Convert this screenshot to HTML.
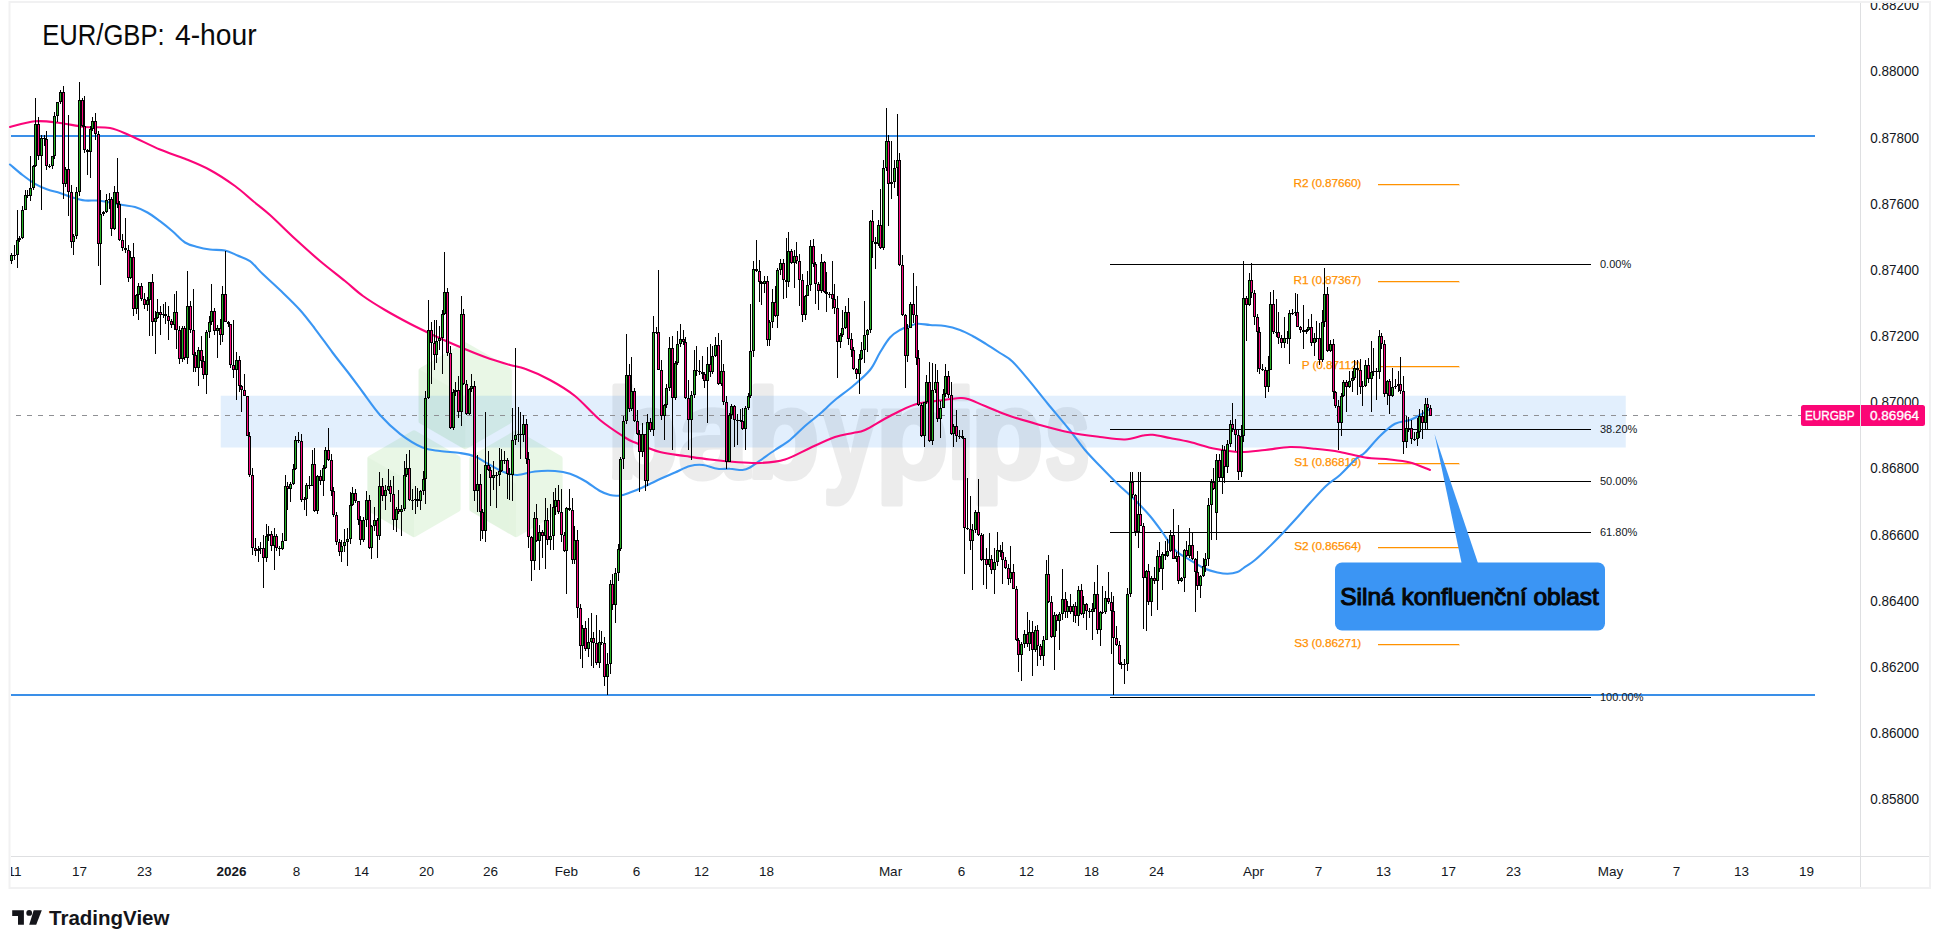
<!DOCTYPE html>
<html><head><meta charset="utf-8"><title>EUR/GBP: 4-hour</title>
<style>
html,body{margin:0;padding:0;background:#fff;}
body{width:1940px;height:948px;overflow:hidden;font-family:"Liberation Sans",sans-serif;}
svg{display:block;position:absolute;left:0;top:0;}
text{font-family:"Liberation Sans",sans-serif;}
</style></head><body>
<svg width="1940" height="948" viewBox="0 0 1940 948">
<defs><clipPath id="cf"><rect x="11" y="3" width="1918" height="884"/></clipPath></defs>
<rect width="1940" height="948" fill="#fff"/>
<!-- frame -->
<rect x="9.5" y="2" width="1920.5" height="886" fill="none" stroke="#f1f1f2" stroke-width="2"/>
<g shape-rendering="crispEdges" fill="#dedfe1">
<rect x="1860" y="3" width="1" height="884"/>
<rect x="11" y="856" width="1918" height="1"/>
</g>
<!-- watermark -->
<g>
<g fill="#86d476" stroke="#86d476" stroke-linejoin="round" stroke-width="6" opacity="0.175"><polygon points="465.2,345.4 508.8,370.6 508.8,421.0 465.2,446.2 421.6,421.0 421.6,370.6"/><polygon points="414.0,433.4 457.6,458.6 457.6,509.0 414.0,534.2 370.4,509.0 370.4,458.6"/><polygon points="516.0,433.4 559.6,458.6 559.6,509.0 516.0,534.2 472.4,509.0 472.4,458.6"/></g><g fill="#5aa84a" opacity="0.03"><polygon points="418.6,368.9 465.2,395.8 465.2,449.6 418.6,422.7"/><polygon points="367.4,456.9 414,483.8 414.0,537.6 367.4,510.7"/><polygon points="469.4,456.9 516,483.8 516.0,537.6 469.4,510.7"/></g>
<g opacity="0.07" font-size="127" font-weight="bold" fill="#000" stroke="#000" stroke-width="5" stroke-linejoin="round"><text x="606.5" y="477.5" textLength="72.1" lengthAdjust="spacingAndGlyphs">b</text><text x="678.3" y="477.5" textLength="70.5" lengthAdjust="spacingAndGlyphs">a</text><text x="746.5" y="477.5" textLength="73.2" lengthAdjust="spacingAndGlyphs">b</text><text x="822.9" y="477.5" textLength="53.6" lengthAdjust="spacingAndGlyphs">y</text><text x="875.5" y="477.5" textLength="73.2" lengthAdjust="spacingAndGlyphs">p</text><text x="947.1" y="477.5" textLength="27.8" lengthAdjust="spacingAndGlyphs">i</text><text x="970.5" y="477.5" textLength="73.2" lengthAdjust="spacingAndGlyphs">p</text><text x="1044.8" y="477.5" textLength="45.1" lengthAdjust="spacingAndGlyphs">s</text></g>
</g>
<!-- zone -->
<rect x="220.75" y="395.75" width="1405" height="51.75" fill="#2f8cf0" fill-opacity="0.14"/>
<!-- horizontal levels -->
<g shape-rendering="crispEdges">
<rect x="11" y="135" width="1804" height="2" fill="#3a8fe8"/>
<rect x="11" y="694" width="1804" height="2" fill="#3a8fe8"/>
<g fill="#000">
<rect x="1110" y="264" width="481" height="1"/>
<rect x="1110" y="429" width="481" height="1"/>
<rect x="1110" y="481" width="481" height="1"/>
<rect x="1110" y="532" width="481" height="1"/>
<rect x="1110" y="697" width="481" height="1"/>
</g>
</g>
<g font-size="11" fill="#131722">
<text x="1600" y="267.9">0.00%</text>
<text x="1600" y="432.9">38.20%</text>
<text x="1600" y="484.9">50.00%</text>
<text x="1600" y="535.9">61.80%</text>
<text x="1600" y="700.9">100.00%</text>
</g>
<g font-size="11.8" fill="#ff9100" stroke="#ff9100" stroke-width="0.25" letter-spacing="-0.1"><text x="1361.2" y="187.3" text-anchor="end">R2 (0.87660)</text><rect x="1378" y="184" width="81" height="1" fill="#ff9300" shape-rendering="crispEdges"/><text x="1361.2" y="284.3" text-anchor="end">R1 (0.87367)</text><rect x="1378" y="281" width="81" height="1" fill="#ff9300" shape-rendering="crispEdges"/><text x="1361.2" y="369.3" text-anchor="end">P (0.87112)</text><rect x="1378" y="366" width="81" height="1" fill="#ff9300" shape-rendering="crispEdges"/><text x="1361.2" y="466.3" text-anchor="end">S1 (0.86819)</text><rect x="1378" y="463" width="81" height="1" fill="#ff9300" shape-rendering="crispEdges"/><text x="1361.2" y="550.3" text-anchor="end">S2 (0.86564)</text><rect x="1378" y="547" width="81" height="1" fill="#ff9300" shape-rendering="crispEdges"/><text x="1361.2" y="647.3" text-anchor="end">S3 (0.86271)</text><rect x="1378" y="644" width="81" height="1" fill="#ff9300" shape-rendering="crispEdges"/></g>
<!-- last price dashed -->
<line x1="11" y1="415.5" x2="1801" y2="415.5" stroke="#8f9094" stroke-width="1" stroke-dasharray="5 6" stroke-dashoffset="5.8" shape-rendering="crispEdges"/>
<path d="M10.0 164.5C12.1 166.2 18.3 171.8 22.5 175.0C26.7 178.2 30.8 181.3 35.0 183.8C39.2 186.2 43.3 188.0 47.5 189.5C51.7 191.0 55.8 191.7 60.0 193.0C64.2 194.3 68.3 196.2 72.5 197.5C76.7 198.8 80.8 200.0 85.0 200.5C89.2 201.0 93.3 200.2 97.5 200.5C101.7 200.8 105.8 201.8 110.0 202.5C114.2 203.2 118.3 204.2 122.5 205.0C126.7 205.8 130.8 205.8 135.0 207.0C139.2 208.2 143.3 210.1 147.5 212.5C151.7 214.9 155.8 218.1 160.0 221.2C164.2 224.4 168.3 227.7 172.5 231.2C176.7 234.8 180.8 239.9 185.0 242.5C189.2 245.1 193.3 245.8 197.5 247.0C201.7 248.2 205.4 248.9 210.0 249.5C214.6 250.1 220.4 249.5 225.0 250.5C229.6 251.5 233.3 253.7 237.5 255.5C241.7 257.3 245.8 258.2 250.0 261.2C254.2 264.3 257.5 269.0 262.5 273.8C267.5 278.5 273.8 284.0 280.0 290.0C286.2 296.0 294.2 303.5 300.0 310.0C305.8 316.5 309.6 321.7 315.0 328.8C320.4 335.8 326.7 344.8 332.5 352.5C338.3 360.2 344.9 368.3 350.0 375.0C355.1 381.7 358.0 385.8 363.0 392.5C368.0 399.2 373.8 408.1 380.0 415.0C386.2 421.9 392.9 428.3 400.0 433.8C407.1 439.2 415.8 444.6 422.5 447.5C429.2 450.4 433.8 450.1 440.0 451.0C446.2 451.9 454.2 452.1 460.0 453.0C465.8 453.9 470.0 454.5 475.0 456.5C480.0 458.5 485.0 462.3 490.0 465.0C495.0 467.7 500.4 470.8 505.0 472.5C509.6 474.2 512.5 475.2 517.5 475.0C522.5 474.8 528.8 472.2 535.0 471.5C541.2 470.8 549.2 470.6 555.0 471.0C560.8 471.4 565.0 472.1 570.0 473.8C575.0 475.4 580.0 478.1 585.0 481.0C590.0 483.9 595.8 488.7 600.0 491.0C604.2 493.3 606.7 494.2 610.0 495.0C613.3 495.8 616.7 495.9 620.0 495.5C623.3 495.1 626.2 493.8 630.0 492.5C633.8 491.2 637.5 489.8 642.5 487.5C647.5 485.2 654.6 481.5 660.0 479.0C665.4 476.5 670.0 474.7 675.0 472.5C680.0 470.3 685.3 467.2 690.0 466.0C694.7 464.8 698.4 464.5 703.0 465.0C707.6 465.5 713.0 468.1 717.5 468.8C722.0 469.4 725.8 468.5 730.0 468.8C734.2 469.0 739.2 470.2 742.5 470.0C745.8 469.8 747.1 469.1 750.0 467.5C752.9 465.9 755.8 463.4 760.0 460.5C764.2 457.6 770.0 453.4 775.0 450.0C780.0 446.6 785.0 444.0 790.0 440.0C795.0 436.0 800.0 430.4 805.0 426.0C810.0 421.6 815.0 418.1 820.0 413.8C825.0 409.4 829.5 404.6 835.0 400.0C840.5 395.4 847.2 391.0 853.0 386.0C858.8 381.0 865.5 375.6 870.0 370.0C874.5 364.4 876.7 357.9 880.0 352.5C883.3 347.1 886.7 341.2 890.0 337.5C893.3 333.8 896.7 331.9 900.0 330.0C903.3 328.1 907.1 327.0 910.0 326.0C912.9 325.0 914.2 323.9 917.5 323.8C920.8 323.6 925.4 324.6 930.0 325.0C934.6 325.4 940.0 325.2 945.0 326.0C950.0 326.8 955.4 328.3 960.0 330.0C964.6 331.7 968.2 333.7 972.5 336.0C976.8 338.3 980.9 340.8 985.5 343.6C990.1 346.4 995.5 350.0 1000.0 353.0C1004.5 356.0 1007.4 356.7 1012.4 361.5C1017.4 366.3 1024.1 374.6 1030.0 381.7C1035.9 388.8 1041.3 395.9 1048.0 404.0C1054.7 412.1 1063.8 422.8 1070.0 430.5C1076.2 438.2 1080.0 444.1 1085.0 450.0C1090.0 455.9 1094.6 460.4 1100.0 466.0C1105.4 471.6 1111.7 478.1 1117.5 483.8C1123.3 489.4 1129.6 494.6 1135.0 500.0C1140.4 505.4 1145.4 510.6 1150.0 516.0C1154.6 521.4 1158.3 526.8 1162.5 532.5C1166.7 538.2 1170.4 545.4 1175.0 550.0C1179.6 554.6 1185.0 556.9 1190.0 560.0C1195.0 563.1 1200.4 566.7 1205.0 568.8C1209.6 570.8 1213.8 571.7 1217.5 572.5C1221.2 573.3 1224.2 573.8 1227.5 573.8C1230.8 573.7 1234.8 573.0 1237.5 572.0C1240.2 571.0 1240.7 570.0 1243.6 568.0C1246.5 566.0 1251.1 563.2 1255.0 560.0C1258.9 556.8 1262.8 553.0 1267.0 549.0C1271.2 545.0 1275.0 541.2 1280.0 536.0C1285.0 530.8 1291.7 523.5 1296.7 518.0C1301.7 512.5 1305.1 508.3 1310.0 503.0C1314.9 497.7 1321.0 490.7 1326.0 486.0C1331.0 481.3 1335.0 479.5 1340.0 475.0C1345.0 470.5 1351.6 462.8 1355.8 459.0C1360.0 455.2 1361.0 456.3 1365.0 452.5C1369.0 448.7 1375.0 440.8 1380.0 436.0C1385.0 431.2 1390.0 426.4 1395.0 423.8C1400.0 421.1 1405.8 421.5 1410.0 420.0C1414.2 418.5 1416.7 416.9 1420.0 415.0C1423.3 413.1 1428.3 409.8 1430.0 408.8" fill="none" stroke="#3a96f3" stroke-width="2.1" stroke-linecap="round" stroke-linejoin="round"/>
<path d="M10.0 127.0C14.2 126.0 26.7 122.0 35.0 121.3C43.3 120.6 51.7 122.0 60.0 123.0C68.3 124.0 76.7 126.2 85.0 127.0C93.3 127.8 102.5 126.6 110.0 128.0C117.5 129.4 121.7 131.9 130.0 135.5C138.3 139.1 150.8 145.6 160.0 149.5C169.2 153.4 176.7 155.4 185.0 158.8C193.3 162.2 201.7 165.5 210.0 170.0C218.3 174.5 227.8 180.8 235.0 186.0C242.2 191.2 247.2 196.2 253.0 201.0C258.8 205.8 263.0 208.7 270.0 215.0C277.0 221.3 286.7 231.1 295.0 238.8C303.3 246.4 311.7 254.0 320.0 261.0C328.3 268.0 337.8 275.2 345.0 281.0C352.2 286.8 356.3 291.2 363.0 296.0C369.7 300.8 377.2 305.4 385.0 310.0C392.8 314.6 401.7 319.4 410.0 323.8C418.3 328.1 426.7 332.1 435.0 336.0C443.3 339.9 451.7 343.5 460.0 347.0C468.3 350.5 476.7 354.0 485.0 357.0C493.3 360.0 503.3 363.0 510.0 365.0C516.7 367.0 518.3 366.2 525.0 368.8C531.7 371.2 541.7 375.5 550.0 380.0C558.3 384.5 566.7 389.3 575.0 396.0C583.3 402.7 591.7 413.1 600.0 420.0C608.3 426.9 619.2 433.8 625.0 437.5C630.8 441.2 629.2 440.1 635.0 442.5C640.8 444.9 651.7 449.8 660.0 452.0C668.3 454.2 676.7 454.8 685.0 456.0C693.3 457.2 701.7 458.5 710.0 459.5C718.3 460.5 726.7 461.4 735.0 462.0C743.3 462.6 751.7 463.4 760.0 463.0C768.3 462.6 776.7 462.0 785.0 459.5C793.3 457.0 801.7 451.8 810.0 448.0C818.3 444.2 827.8 439.5 835.0 437.0C842.2 434.5 848.0 434.2 853.0 433.0C858.0 431.8 858.8 432.8 865.0 430.0C871.2 427.2 881.7 420.2 890.0 416.0C898.3 411.8 906.7 407.1 915.0 404.5C923.3 401.9 932.5 401.6 940.0 400.5C947.5 399.4 955.3 398.2 960.0 398.0C964.7 397.8 963.8 397.7 968.0 399.0C972.2 400.3 978.0 403.2 985.0 406.0C992.0 408.8 1000.8 412.8 1010.0 416.0C1019.2 419.2 1030.0 422.2 1040.0 425.0C1050.0 427.8 1060.0 430.5 1070.0 432.5C1080.0 434.5 1090.8 435.8 1100.0 437.0C1109.2 438.2 1117.8 439.8 1125.0 439.5C1132.2 439.2 1138.4 436.3 1143.0 435.5C1147.6 434.7 1148.2 434.4 1152.7 434.8C1157.2 435.2 1163.8 436.8 1170.0 438.0C1176.2 439.2 1182.5 440.2 1190.0 442.0C1197.5 443.8 1206.7 447.1 1215.0 448.8C1223.3 450.4 1231.7 451.8 1240.0 452.0C1248.3 452.2 1256.7 450.8 1265.0 450.0C1273.3 449.2 1281.7 447.2 1290.0 447.0C1298.3 446.8 1306.7 447.9 1315.0 448.8C1323.3 449.6 1331.7 450.5 1340.0 452.0C1348.3 453.5 1356.7 456.2 1365.0 457.5C1373.3 458.8 1382.5 458.7 1390.0 459.5C1397.5 460.3 1403.3 460.8 1410.0 462.5C1416.7 464.2 1426.7 468.8 1430.0 470.0" fill="none" stroke="#fb0579" stroke-width="2.1" stroke-linecap="round" stroke-linejoin="round"/>
<g shape-rendering="crispEdges"><path d="M11 253h1V264h-1zM10 255h3V261h-3zM14 245h1V260h-1zM13 255h3V256h-3zM17 210h1V268h-1zM16 240h3V255h-3zM19 236h1V242h-1zM18 238h3V240h-3zM22 206h1V239h-1zM21 210h3V238h-3zM25 190h1V210h-1zM24 195h3V210h-3zM27 190h1V198h-1zM26 195h3V196h-3zM30 156h1V201h-1zM29 188h3V196h-3zM33 165h1V190h-1zM32 166h3V188h-3zM35 98h1V167h-1zM34 124h3V166h-3zM38 117h1V160h-1zM37 124h3V156h-3zM41 135h1V210h-1zM40 138h3V156h-3zM44 135h1V146h-1zM43 138h3V139h-3zM46 131h1V170h-1zM45 139h3V166h-3zM49 164h1V168h-1zM48 166h3V167h-3zM52 156h1V169h-1zM51 156h3V166h-3zM54 112h1V159h-1zM53 116h3V156h-3zM57 102h1V122h-1zM56 102h3V116h-3zM60 90h1V104h-1zM59 92h3V102h-3zM63 86h1V199h-1zM62 92h3V184h-3zM65 167h1V187h-1zM64 169h3V184h-3zM68 115h1V216h-1zM67 169h3V192h-3zM71 185h1V248h-1zM70 192h3V242h-3zM73 234h1V255h-1zM72 236h3V242h-3zM76 187h1V239h-1zM75 192h3V236h-3zM79 82h1V196h-1zM78 100h3V192h-3zM82 98h1V127h-1zM81 100h3V126h-3zM84 96h1V153h-1zM83 126h3V150h-3zM87 149h1V175h-1zM86 150h3V152h-3zM90 126h1V178h-1zM89 129h3V152h-3zM92 117h1V131h-1zM91 121h3V129h-3zM95 113h1V140h-1zM94 121h3V134h-3zM98 131h1V266h-1zM97 134h3V244h-3zM100 190h1V285h-1zM99 214h3V244h-3zM103 211h1V216h-1zM102 212h3V214h-3zM106 194h1V213h-1zM105 200h3V212h-3zM109 193h1V209h-1zM108 199h3V200h-3zM111 197h1V236h-1zM110 199h3V229h-3zM114 186h1V230h-1zM113 192h3V229h-3zM117 158h1V208h-1zM116 192h3V204h-3zM119 201h1V241h-1zM118 204h3V240h-3zM122 234h1V251h-1zM121 240h3V248h-3zM125 218h1V253h-1zM124 248h3V250h-3zM128 245h1V282h-1zM127 250h3V278h-3zM130 251h1V279h-1zM129 257h3V278h-3zM133 243h1V316h-1zM132 257h3V309h-3zM136 294h1V314h-1zM135 295h3V309h-3zM138 283h1V320h-1zM137 286h3V295h-3zM141 283h1V301h-1zM140 286h3V299h-3zM144 293h1V309h-1zM143 299h3V305h-3zM147 297h1V311h-1zM146 300h3V305h-3zM149 282h1V336h-1zM148 282h3V300h-3zM152 274h1V336h-1zM151 282h3V322h-3zM155 311h1V354h-1zM154 318h3V322h-3zM157 299h1V319h-1zM156 312h3V318h-3zM160 306h1V335h-1zM159 312h3V315h-3zM163 304h1V318h-1zM162 314h3V315h-3zM165 302h1V324h-1zM164 314h3V316h-3zM168 306h1V340h-1zM167 316h3V321h-3zM171 319h1V328h-1zM170 321h3V325h-3zM174 294h1V330h-1zM173 312h3V325h-3zM176 291h1V349h-1zM175 312h3V330h-3zM179 326h1V364h-1zM178 330h3V359h-3zM182 326h1V362h-1zM181 328h3V359h-3zM184 326h1V360h-1zM183 328h3V358h-3zM187 271h1V364h-1zM186 306h3V358h-3zM190 301h1V333h-1zM189 306h3V330h-3zM193 289h1V372h-1zM192 330h3V355h-3zM195 352h1V372h-1zM194 355h3V368h-3zM198 347h1V386h-1zM197 350h3V368h-3zM201 336h1V368h-1zM200 350h3V361h-3zM203 356h1V379h-1zM202 361h3V375h-3zM206 330h1V394h-1zM205 332h3V375h-3zM209 316h1V338h-1zM208 322h3V332h-3zM211 284h1V325h-1zM210 311h3V322h-3zM214 308h1V335h-1zM213 311h3V331h-3zM217 325h1V358h-1zM216 328h3V331h-3zM220 319h1V345h-1zM219 328h3V335h-3zM222 286h1V342h-1zM221 294h3V335h-3zM225 251h1V322h-1zM224 294h3V322h-3zM228 321h1V327h-1zM227 322h3V324h-3zM230 324h1V368h-1zM229 324h3V365h-3zM233 320h1V378h-1zM232 365h3V370h-3zM236 352h1V400h-1zM235 360h3V370h-3zM239 356h1V392h-1zM238 360h3V386h-3zM241 385h1V412h-1zM240 386h3V390h-3zM244 374h1V396h-1zM243 390h3V396h-3zM247 396h1V436h-1zM246 396h3V436h-3zM249 432h1V477h-1zM248 436h3V475h-3zM252 468h1V555h-1zM251 475h3V548h-3zM255 538h1V556h-1zM254 548h3V551h-3zM258 546h1V562h-1zM257 549h3V551h-3zM260 542h1V554h-1zM259 548h3V549h-3zM263 535h1V588h-1zM262 548h3V558h-3zM266 524h1V562h-1zM265 536h3V558h-3zM268 526h1V541h-1zM267 534h3V536h-3zM271 531h1V551h-1zM270 534h3V546h-3zM274 528h1V570h-1zM273 536h3V546h-3zM276 534h1V551h-1zM275 536h3V548h-3zM279 546h1V556h-1zM278 548h3V549h-3zM282 533h1V550h-1zM281 541h3V549h-3zM285 475h1V541h-1zM284 486h3V541h-3zM287 482h1V510h-1zM286 486h3V489h-3zM290 482h1V502h-1zM289 484h3V489h-3zM293 464h1V485h-1zM292 469h3V484h-3zM295 436h1V470h-1zM294 440h3V469h-3zM298 432h1V443h-1zM297 440h3V441h-3zM301 434h1V502h-1zM300 441h3V500h-3zM304 497h1V510h-1zM303 499h3V500h-3zM306 483h1V516h-1zM305 485h3V499h-3zM309 476h1V489h-1zM308 485h3V486h-3zM312 450h1V486h-1zM311 464h3V486h-3zM314 448h1V512h-1zM313 464h3V511h-3zM317 475h1V514h-1zM316 476h3V511h-3zM320 470h1V485h-1zM319 476h3V481h-3zM323 465h1V496h-1zM322 468h3V481h-3zM325 447h1V469h-1zM324 450h3V468h-3zM328 428h1V461h-1zM327 450h3V460h-3zM331 454h1V496h-1zM330 460h3V491h-3zM333 487h1V517h-1zM332 491h3V515h-3zM336 512h1V545h-1zM335 515h3V542h-3zM339 539h1V556h-1zM338 542h3V552h-3zM341 540h1V562h-1zM340 546h3V552h-3zM344 529h1V552h-1zM343 542h3V546h-3zM347 528h1V566h-1zM346 539h3V542h-3zM350 492h1V544h-1zM349 505h3V539h-3zM352 487h1V506h-1zM351 493h3V505h-3zM355 489h1V503h-1zM354 493h3V501h-3zM358 501h1V525h-1zM357 501h3V520h-3zM360 516h1V545h-1zM359 520h3V540h-3zM363 517h1V542h-1zM362 520h3V540h-3zM366 491h1V527h-1zM365 500h3V520h-3zM369 495h1V549h-1zM368 500h3V548h-3zM371 525h1V559h-1zM370 526h3V548h-3zM374 507h1V531h-1zM373 520h3V526h-3zM377 518h1V558h-1zM376 520h3V536h-3zM379 472h1V540h-1zM378 486h3V536h-3zM382 478h1V501h-1zM381 486h3V496h-3zM385 485h1V510h-1zM384 490h3V496h-3zM388 469h1V491h-1zM387 486h3V490h-3zM390 480h1V502h-1zM389 486h3V494h-3zM393 476h1V530h-1zM392 494h3V520h-3zM396 507h1V532h-1zM395 509h3V520h-3zM398 490h1V514h-1zM397 509h3V512h-3zM401 505h1V536h-1zM400 509h3V512h-3zM404 461h1V511h-1zM403 475h3V509h-3zM406 454h1V477h-1zM405 468h3V475h-3zM409 450h1V501h-1zM408 468h3V500h-3zM412 489h1V510h-1zM411 500h3V501h-3zM415 486h1V514h-1zM414 499h3V500h-3zM417 488h1V507h-1zM416 499h3V501h-3zM420 490h1V510h-1zM419 491h3V501h-3zM423 471h1V495h-1zM422 479h3V491h-3zM425 391h1V504h-1zM424 398h3V479h-3zM428 300h1V399h-1zM427 330h3V398h-3zM431 322h1V384h-1zM430 330h3V343h-3zM434 320h1V370h-1zM433 343h3V355h-3zM436 320h1V363h-1zM435 341h3V355h-3zM439 326h1V350h-1zM438 338h3V341h-3zM442 310h1V374h-1zM441 314h3V338h-3zM444 252h1V315h-1zM443 292h3V314h-3zM447 288h1V356h-1zM446 292h3V353h-3zM450 346h1V429h-1zM449 353h3V428h-3zM453 389h1V430h-1zM452 392h3V428h-3zM455 382h1V396h-1zM454 390h3V392h-3zM458 376h1V418h-1zM457 390h3V412h-3zM461 296h1V426h-1zM460 314h3V412h-3zM463 309h1V385h-1zM462 314h3V384h-3zM466 380h1V415h-1zM465 384h3V414h-3zM469 388h1V415h-1zM468 389h3V414h-3zM471 374h1V392h-1zM470 386h3V389h-3zM474 381h1V501h-1zM473 386h3V491h-3zM477 455h1V512h-1zM476 484h3V491h-3zM480 474h1V541h-1zM479 484h3V512h-3zM482 509h1V539h-1zM481 512h3V531h-3zM485 412h1V542h-1zM484 465h3V531h-3zM488 451h1V471h-1zM487 465h3V470h-3zM490 467h1V506h-1zM489 470h3V478h-3zM493 461h1V490h-1zM492 475h3V478h-3zM496 472h1V508h-1zM495 475h3V476h-3zM499 448h1V486h-1zM498 471h3V475h-3zM501 449h1V472h-1zM500 460h3V471h-3zM504 451h1V464h-1zM503 460h3V461h-3zM507 458h1V499h-1zM506 460h3V474h-3zM509 468h1V500h-1zM508 474h3V475h-3zM512 408h1V501h-1zM511 440h3V475h-3zM515 348h1V445h-1zM514 435h3V440h-3zM518 407h1V442h-1zM517 434h3V435h-3zM520 412h1V459h-1zM519 434h3V435h-3zM523 415h1V442h-1zM522 424h3V435h-3zM526 419h1V464h-1zM525 424h3V459h-3zM528 452h1V548h-1zM527 459h3V537h-3zM531 536h1V581h-1zM530 537h3V561h-3zM534 512h1V570h-1zM533 518h3V561h-3zM536 504h1V542h-1zM535 518h3V541h-3zM539 525h1V570h-1zM538 532h3V541h-3zM542 530h1V558h-1zM541 532h3V536h-3zM545 498h1V569h-1zM544 520h3V536h-3zM547 508h1V545h-1zM546 520h3V540h-3zM550 504h1V550h-1zM549 536h3V540h-3zM553 492h1V550h-1zM552 507h3V536h-3zM555 488h1V515h-1zM554 500h3V507h-3zM558 485h1V514h-1zM557 500h3V512h-3zM561 489h1V542h-1zM560 512h3V535h-3zM564 532h1V552h-1zM563 535h3V551h-3zM566 507h1V594h-1zM565 508h3V551h-3zM569 489h1V511h-1zM568 508h3V510h-3zM572 498h1V564h-1zM571 510h3V560h-3zM574 526h1V564h-1zM573 540h3V560h-3zM577 530h1V618h-1zM576 540h3V608h-3zM580 604h1V659h-1zM579 608h3V646h-3zM582 625h1V668h-1zM581 628h3V646h-3zM585 621h1V651h-1zM584 628h3V649h-3zM588 618h1V657h-1zM587 642h3V649h-3zM591 613h1V666h-1zM590 638h3V642h-3zM593 632h1V668h-1zM592 638h3V643h-3zM596 615h1V665h-1zM595 643h3V663h-3zM599 630h1V668h-1zM598 642h3V663h-3zM601 631h1V645h-1zM600 642h3V643h-3zM604 637h1V686h-1zM603 643h3V677h-3zM607 653h1V695h-1zM606 664h3V677h-3zM610 580h1V674h-1zM609 584h3V664h-3zM612 574h1V610h-1zM611 584h3V605h-3zM615 568h1V623h-1zM614 573h3V605h-3zM618 544h1V581h-1zM617 549h3V573h-3zM620 457h1V551h-1zM619 459h3V549h-3zM623 416h1V469h-1zM622 421h3V459h-3zM626 334h1V424h-1zM625 375h3V421h-3zM629 364h1V412h-1zM628 375h3V409h-3zM631 357h1V411h-1zM630 391h3V409h-3zM634 388h1V422h-1zM633 391h3V421h-3zM637 410h1V435h-1zM636 421h3V434h-3zM639 430h1V492h-1zM638 434h3V452h-3zM642 423h1V457h-1zM641 434h3V452h-3zM645 434h1V491h-1zM644 434h3V481h-3zM647 414h1V486h-1zM646 422h3V481h-3zM650 418h1V432h-1zM649 422h3V430h-3zM653 316h1V436h-1zM652 332h3V430h-3zM656 327h1V334h-1zM655 332h3V333h-3zM658 270h1V370h-1zM657 332h3V370h-3zM661 360h1V420h-1zM660 370h3V416h-3zM664 404h1V440h-1zM663 405h3V416h-3zM666 384h1V408h-1zM665 388h3V405h-3zM669 337h1V391h-1zM668 348h3V388h-3zM672 336h1V450h-1zM671 348h3V398h-3zM675 361h1V400h-1zM674 363h3V398h-3zM677 331h1V365h-1zM676 344h3V363h-3zM680 324h1V347h-1zM679 339h3V344h-3zM683 330h1V345h-1zM682 339h3V342h-3zM685 337h1V399h-1zM684 342h3V398h-3zM688 380h1V450h-1zM687 398h3V420h-3zM691 391h1V460h-1zM690 395h3V420h-3zM694 350h1V398h-1zM693 370h3V395h-3zM696 346h1V376h-1zM695 370h3V371h-3zM699 360h1V375h-1zM698 371h3V372h-3zM702 356h1V379h-1zM701 372h3V374h-3zM704 372h1V388h-1zM703 374h3V381h-3zM707 347h1V423h-1zM706 364h3V381h-3zM710 344h1V377h-1zM709 364h3V372h-3zM712 346h1V374h-1zM711 356h3V372h-3zM715 337h1V357h-1zM714 345h3V356h-3zM718 333h1V385h-1zM717 345h3V384h-3zM721 340h1V386h-1zM720 371h3V384h-3zM723 364h1V405h-1zM722 371h3V402h-3zM726 396h1V469h-1zM725 402h3V462h-3zM729 413h1V462h-1zM728 415h3V462h-3zM731 404h1V419h-1zM730 406h3V415h-3zM734 405h1V447h-1zM733 406h3V420h-3zM737 414h1V445h-1zM736 420h3V421h-3zM740 409h1V422h-1zM739 420h3V421h-3zM742 408h1V430h-1zM741 421h3V429h-3zM745 406h1V450h-1zM744 408h3V429h-3zM748 393h1V410h-1zM747 396h3V408h-3zM750 304h1V398h-1zM749 351h3V396h-3zM753 261h1V357h-1zM752 269h3V351h-3zM756 240h1V272h-1zM755 269h3V271h-3zM759 260h1V302h-1zM758 271h3V282h-3zM761 281h1V305h-1zM760 282h3V284h-3zM764 276h1V293h-1zM763 281h3V284h-3zM767 276h1V346h-1zM766 281h3V340h-3zM769 320h1V346h-1zM768 322h3V340h-3zM772 289h1V328h-1zM771 302h3V322h-3zM775 286h1V317h-1zM774 302h3V316h-3zM777 268h1V328h-1zM776 270h3V316h-3zM780 259h1V275h-1zM779 263h3V270h-3zM783 259h1V299h-1zM782 263h3V280h-3zM786 238h1V298h-1zM785 280h3V282h-3zM788 232h1V287h-1zM787 251h3V282h-3zM791 249h1V264h-1zM790 251h3V263h-3zM794 250h1V288h-1zM793 256h3V263h-3zM796 242h1V264h-1zM795 256h3V261h-3zM799 254h1V306h-1zM798 261h3V280h-3zM802 274h1V322h-1zM801 280h3V315h-3zM805 295h1V320h-1zM804 296h3V315h-3zM807 271h1V296h-1zM806 285h3V296h-3zM810 240h1V291h-1zM809 246h3V285h-3zM813 239h1V267h-1zM812 246h3V264h-3zM815 262h1V304h-1zM814 264h3V284h-3zM818 282h1V310h-1zM817 284h3V291h-3zM821 254h1V293h-1zM820 262h3V291h-3zM824 261h1V293h-1zM823 262h3V292h-3zM826 272h1V312h-1zM825 292h3V294h-3zM829 292h1V298h-1zM828 294h3V295h-3zM832 261h1V309h-1zM831 294h3V299h-3zM834 284h1V314h-1zM833 299h3V308h-3zM837 296h1V378h-1zM836 308h3V342h-3zM840 333h1V348h-1zM839 335h3V342h-3zM842 310h1V337h-1zM841 328h3V335h-3zM845 306h1V329h-1zM844 312h3V328h-3zM848 298h1V345h-1zM847 312h3V339h-3zM851 333h1V357h-1zM850 339h3V350h-3zM853 347h1V370h-1zM852 350h3V369h-3zM856 368h1V379h-1zM855 369h3V374h-3zM859 354h1V394h-1zM858 359h3V374h-3zM861 342h1V360h-1zM860 350h3V359h-3zM864 301h1V363h-1zM863 335h3V350h-3zM867 329h1V352h-1zM866 330h3V335h-3zM870 220h1V333h-1zM869 221h3V330h-3zM872 210h1V258h-1zM871 221h3V242h-3zM875 237h1V269h-1zM874 242h3V244h-3zM878 220h1V246h-1zM877 225h3V244h-3zM880 189h1V249h-1zM879 225h3V248h-3zM883 160h1V250h-1zM882 168h3V248h-3zM886 108h1V171h-1zM885 141h3V168h-3zM888 135h1V226h-1zM887 141h3V184h-3zM891 141h1V199h-1zM890 182h3V184h-3zM894 160h1V188h-1zM893 168h3V182h-3zM897 114h1V196h-1zM896 160h3V168h-3zM899 153h1V266h-1zM898 160h3V265h-3zM902 255h1V316h-1zM901 265h3V315h-3zM905 314h1V388h-1zM904 315h3V356h-3zM907 324h1V362h-1zM906 328h3V356h-3zM910 302h1V328h-1zM909 304h3V328h-3zM913 273h1V323h-1zM912 304h3V315h-3zM916 286h1V365h-1zM915 315h3V358h-3zM918 350h1V406h-1zM917 358h3V405h-3zM921 403h1V437h-1zM920 405h3V436h-3zM924 402h1V447h-1zM923 402h3V436h-3zM926 375h1V404h-1zM925 382h3V402h-3zM929 362h1V442h-1zM928 382h3V441h-3zM932 363h1V445h-1zM931 390h3V441h-3zM935 364h1V393h-1zM934 382h3V390h-3zM937 370h1V422h-1zM936 382h3V419h-3zM940 401h1V438h-1zM939 408h3V419h-3zM943 389h1V408h-1zM942 394h3V408h-3zM945 364h1V397h-1zM944 376h3V394h-3zM948 371h1V398h-1zM947 376h3V395h-3zM951 382h1V435h-1zM950 395h3V434h-3zM953 424h1V447h-1zM952 426h3V434h-3zM956 410h1V442h-1zM955 426h3V436h-3zM959 430h1V439h-1zM958 436h3V437h-3zM962 430h1V439h-1zM961 436h3V438h-3zM964 438h1V574h-1zM963 438h3V528h-3zM967 478h1V530h-1zM966 528h3V529h-3zM970 496h1V550h-1zM969 529h3V541h-3zM972 524h1V590h-1zM971 530h3V541h-3zM975 510h1V533h-1zM974 512h3V530h-3zM978 479h1V536h-1zM977 512h3V535h-3zM981 533h1V561h-1zM980 535h3V560h-3zM983 534h1V585h-1zM982 559h3V560h-3zM986 548h1V589h-1zM985 559h3V565h-3zM989 533h1V567h-1zM988 559h3V565h-3zM991 555h1V574h-1zM990 559h3V570h-3zM994 548h1V594h-1zM993 562h3V570h-3zM997 532h1V566h-1zM996 550h3V562h-3zM1000 545h1V557h-1zM999 550h3V552h-3zM1002 542h1V584h-1zM1001 552h3V560h-3zM1005 557h1V569h-1zM1004 560h3V568h-3zM1008 564h1V585h-1zM1007 568h3V579h-3zM1010 546h1V583h-1zM1009 572h3V579h-3zM1013 564h1V589h-1zM1012 572h3V589h-3zM1016 586h1V641h-1zM1015 589h3V640h-3zM1018 638h1V672h-1zM1017 640h3V655h-3zM1021 642h1V681h-1zM1020 644h3V655h-3zM1024 630h1V648h-1zM1023 634h3V644h-3zM1027 612h1V647h-1zM1026 634h3V644h-3zM1029 620h1V651h-1zM1028 632h3V644h-3zM1032 621h1V676h-1zM1031 632h3V650h-3zM1035 626h1V652h-1zM1034 630h3V650h-3zM1037 625h1V666h-1zM1036 630h3V646h-3zM1040 644h1V660h-1zM1039 646h3V656h-3zM1043 636h1V666h-1zM1042 640h3V656h-3zM1046 560h1V640h-1zM1045 574h3V640h-3zM1048 555h1V603h-1zM1047 574h3V602h-3zM1051 596h1V638h-1zM1050 602h3V637h-3zM1054 612h1V670h-1zM1053 615h3V637h-3zM1056 614h1V631h-1zM1055 615h3V621h-3zM1059 612h1V650h-1zM1058 614h3V621h-3zM1062 569h1V620h-1zM1061 599h3V614h-3zM1065 592h1V618h-1zM1064 599h3V612h-3zM1067 601h1V618h-1zM1066 606h3V612h-3zM1070 594h1V614h-1zM1069 606h3V612h-3zM1073 604h1V622h-1zM1072 606h3V612h-3zM1075 602h1V623h-1zM1074 606h3V616h-3zM1078 586h1V626h-1zM1077 590h3V616h-3zM1081 584h1V615h-1zM1080 590h3V614h-3zM1083 596h1V618h-1zM1082 604h3V614h-3zM1086 603h1V630h-1zM1085 604h3V611h-3zM1089 608h1V618h-1zM1088 611h3V612h-3zM1092 603h1V640h-1zM1091 609h3V612h-3zM1094 582h1V612h-1zM1093 594h3V609h-3zM1097 565h1V634h-1zM1096 594h3V630h-3zM1100 611h1V646h-1zM1099 612h3V630h-3zM1102 586h1V614h-1zM1101 612h3V613h-3zM1105 591h1V614h-1zM1104 598h3V612h-3zM1108 572h1V604h-1zM1107 598h3V602h-3zM1111 592h1V654h-1zM1110 602h3V611h-3zM1113 596h1V695h-1zM1112 611h3V638h-3zM1116 626h1V646h-1zM1115 638h3V645h-3zM1119 641h1V665h-1zM1118 645h3V664h-3zM1121 662h1V669h-1zM1120 664h3V665h-3zM1124 659h1V684h-1zM1123 664h3V665h-3zM1127 588h1V671h-1zM1126 594h3V664h-3zM1130 472h1V597h-1zM1129 482h3V594h-3zM1132 472h1V498h-1zM1131 482h3V495h-3zM1135 494h1V536h-1zM1134 495h3V532h-3zM1138 472h1V548h-1zM1137 514h3V532h-3zM1140 472h1V526h-1zM1139 514h3V526h-3zM1143 523h1V629h-1zM1142 526h3V578h-3zM1146 570h1V631h-1zM1145 571h3V578h-3zM1148 564h1V605h-1zM1147 571h3V602h-3zM1151 576h1V616h-1zM1150 578h3V602h-3zM1154 567h1V584h-1zM1153 578h3V581h-3zM1157 550h1V610h-1zM1156 556h3V581h-3zM1159 542h1V572h-1zM1158 556h3V569h-3zM1162 552h1V590h-1zM1161 554h3V569h-3zM1165 541h1V560h-1zM1164 554h3V556h-3zM1167 539h1V557h-1zM1166 551h3V556h-3zM1170 530h1V552h-1zM1169 535h3V551h-3zM1173 509h1V559h-1zM1172 535h3V559h-3zM1176 552h1V562h-1zM1175 556h3V559h-3zM1178 525h1V584h-1zM1177 556h3V581h-3zM1181 577h1V582h-1zM1180 578h3V581h-3zM1184 549h1V592h-1zM1183 550h3V578h-3zM1186 541h1V557h-1zM1185 550h3V556h-3zM1189 528h1V558h-1zM1188 545h3V556h-3zM1192 532h1V560h-1zM1191 545h3V559h-3zM1195 558h1V612h-1zM1194 559h3V572h-3zM1197 551h1V590h-1zM1196 572h3V586h-3zM1200 575h1V598h-1zM1199 576h3V586h-3zM1203 558h1V577h-1zM1202 566h3V576h-3zM1205 553h1V572h-1zM1204 559h3V566h-3zM1208 498h1V566h-1zM1207 505h3V559h-3zM1211 479h1V540h-1zM1210 482h3V505h-3zM1213 468h1V490h-1zM1212 482h3V489h-3zM1216 454h1V540h-1zM1215 460h3V513h-3zM1219 454h1V481h-1zM1218 460h3V478h-3zM1222 445h1V494h-1zM1221 450h3V478h-3zM1224 446h1V483h-1zM1223 450h3V467h-3zM1227 440h1V473h-1zM1226 444h3V467h-3zM1230 420h1V447h-1zM1229 424h3V444h-3zM1232 403h1V432h-1zM1231 424h3V429h-3zM1235 419h1V451h-1zM1234 429h3V435h-3zM1238 429h1V480h-1zM1237 435h3V472h-3zM1241 425h1V477h-1zM1240 436h3V472h-3zM1243 261h1V442h-1zM1242 298h3V436h-3zM1246 296h1V341h-1zM1245 298h3V305h-3zM1249 273h1V306h-1zM1248 280h3V305h-3zM1251 263h1V298h-1zM1250 280h3V293h-3zM1254 290h1V325h-1zM1253 293h3V317h-3zM1257 314h1V372h-1zM1256 317h3V332h-3zM1259 327h1V374h-1zM1258 332h3V369h-3zM1262 364h1V371h-1zM1261 369h3V370h-3zM1265 367h1V398h-1zM1264 370h3V387h-3zM1268 356h1V392h-1zM1267 370h3V387h-3zM1270 292h1V370h-1zM1269 304h3V370h-3zM1273 290h1V334h-1zM1272 304h3V332h-3zM1276 299h1V337h-1zM1275 332h3V333h-3zM1278 312h1V344h-1zM1277 332h3V338h-3zM1281 335h1V348h-1zM1280 338h3V343h-3zM1284 317h1V348h-1zM1283 338h3V343h-3zM1287 331h1V344h-1zM1286 338h3V339h-3zM1289 310h1V364h-1zM1288 313h3V339h-3zM1292 309h1V315h-1zM1291 313h3V314h-3zM1295 293h1V316h-1zM1294 312h3V313h-3zM1297 294h1V327h-1zM1296 312h3V327h-3zM1300 326h1V333h-1zM1299 327h3V330h-3zM1303 305h1V349h-1zM1302 330h3V332h-3zM1306 329h1V334h-1zM1305 330h3V332h-3zM1308 319h1V331h-1zM1307 327h3V330h-3zM1311 314h1V346h-1zM1310 327h3V343h-3zM1314 333h1V356h-1zM1313 338h3V343h-3zM1316 321h1V342h-1zM1315 338h3V339h-3zM1319 323h1V365h-1zM1318 338h3V360h-3zM1322 310h1V362h-1zM1321 322h3V360h-3zM1324 268h1V327h-1zM1323 294h3V322h-3zM1327 287h1V352h-1zM1326 294h3V351h-3zM1330 340h1V352h-1zM1329 344h3V351h-3zM1333 339h1V399h-1zM1332 344h3V392h-3zM1335 391h1V408h-1zM1334 392h3V406h-3zM1338 400h1V450h-1zM1337 406h3V423h-3zM1341 393h1V436h-1zM1340 396h3V423h-3zM1343 380h1V397h-1zM1342 382h3V396h-3zM1346 380h1V412h-1zM1345 382h3V387h-3zM1349 371h1V388h-1zM1348 381h3V387h-3zM1352 371h1V392h-1zM1351 378h3V381h-3zM1354 360h1V380h-1zM1353 368h3V378h-3zM1357 360h1V395h-1zM1356 368h3V370h-3zM1360 359h1V394h-1zM1359 370h3V387h-3zM1362 381h1V406h-1zM1361 386h3V387h-3zM1365 360h1V387h-1zM1364 365h3V386h-3zM1368 358h1V383h-1zM1367 365h3V379h-3zM1371 341h1V412h-1zM1370 372h3V379h-3zM1373 348h1V376h-1zM1372 371h3V372h-3zM1376 368h1V400h-1zM1375 371h3V372h-3zM1379 330h1V379h-1zM1378 336h3V372h-3zM1381 333h1V349h-1zM1380 336h3V344h-3zM1384 340h1V397h-1zM1383 344h3V394h-3zM1387 380h1V405h-1zM1386 381h3V394h-3zM1389 379h1V414h-1zM1388 381h3V396h-3zM1392 368h1V397h-1zM1391 387h3V396h-3zM1395 379h1V389h-1zM1394 386h3V387h-3zM1398 371h1V392h-1zM1397 384h3V386h-3zM1400 357h1V394h-1zM1399 384h3V391h-3zM1403 376h1V454h-1zM1402 391h3V442h-3zM1406 416h1V448h-1zM1405 428h3V442h-3zM1408 417h1V432h-1zM1407 428h3V429h-3zM1411 420h1V444h-1zM1410 428h3V439h-3zM1414 432h1V441h-1zM1413 439h3V440h-3zM1417 418h1V446h-1zM1416 432h3V439h-3zM1419 409h1V438h-1zM1418 416h3V432h-3zM1422 410h1V439h-1zM1421 416h3V423h-3zM1425 398h1V429h-1zM1424 404h3V423h-3zM1427 398h1V429h-1zM1426 404h3V408h-3zM1430 405h1V416h-1zM1429 408h3V416h-3z" fill="#000"/><path d="M11 256h1V260h-1zM17 241h1V254h-1zM22 211h1V237h-1zM25 196h1V209h-1zM30 189h1V195h-1zM33 167h1V187h-1zM35 125h1V165h-1zM41 139h1V155h-1zM52 157h1V165h-1zM54 117h1V155h-1zM57 103h1V115h-1zM60 93h1V101h-1zM65 170h1V183h-1zM73 237h1V241h-1zM76 193h1V235h-1zM79 101h1V191h-1zM90 130h1V151h-1zM92 122h1V128h-1zM100 215h1V243h-1zM106 201h1V211h-1zM114 193h1V228h-1zM130 258h1V277h-1zM136 296h1V308h-1zM138 287h1V294h-1zM147 301h1V304h-1zM149 283h1V299h-1zM155 319h1V321h-1zM157 313h1V317h-1zM174 313h1V324h-1zM182 329h1V358h-1zM187 307h1V357h-1zM198 351h1V367h-1zM206 333h1V374h-1zM209 323h1V331h-1zM211 312h1V321h-1zM217 329h1V330h-1zM222 295h1V334h-1zM236 361h1V369h-1zM266 537h1V557h-1zM274 537h1V545h-1zM282 542h1V548h-1zM285 487h1V540h-1zM290 485h1V488h-1zM293 470h1V483h-1zM295 441h1V468h-1zM306 486h1V498h-1zM312 465h1V485h-1zM317 477h1V510h-1zM323 469h1V480h-1zM325 451h1V467h-1zM341 547h1V551h-1zM344 543h1V545h-1zM347 540h1V541h-1zM350 506h1V538h-1zM352 494h1V504h-1zM363 521h1V539h-1zM366 501h1V519h-1zM371 527h1V547h-1zM374 521h1V525h-1zM379 487h1V535h-1zM385 491h1V495h-1zM388 487h1V489h-1zM396 510h1V519h-1zM401 510h1V511h-1zM404 476h1V508h-1zM406 469h1V474h-1zM420 492h1V500h-1zM423 480h1V490h-1zM425 399h1V478h-1zM428 331h1V397h-1zM436 342h1V354h-1zM439 339h1V340h-1zM442 315h1V337h-1zM444 293h1V313h-1zM453 393h1V427h-1zM461 315h1V411h-1zM469 390h1V413h-1zM471 387h1V388h-1zM477 485h1V490h-1zM485 466h1V530h-1zM493 476h1V477h-1zM499 472h1V474h-1zM501 461h1V470h-1zM512 441h1V474h-1zM515 436h1V439h-1zM523 425h1V434h-1zM534 519h1V560h-1zM539 533h1V540h-1zM545 521h1V535h-1zM550 537h1V539h-1zM553 508h1V535h-1zM555 501h1V506h-1zM566 509h1V550h-1zM574 541h1V559h-1zM582 629h1V645h-1zM588 643h1V648h-1zM591 639h1V641h-1zM599 643h1V662h-1zM607 665h1V676h-1zM610 585h1V663h-1zM615 574h1V604h-1zM618 550h1V572h-1zM620 460h1V548h-1zM623 422h1V458h-1zM626 376h1V420h-1zM631 392h1V408h-1zM642 435h1V451h-1zM647 423h1V480h-1zM653 333h1V429h-1zM664 406h1V415h-1zM666 389h1V404h-1zM669 349h1V387h-1zM675 364h1V397h-1zM677 345h1V362h-1zM680 340h1V343h-1zM691 396h1V419h-1zM694 371h1V394h-1zM707 365h1V380h-1zM712 357h1V371h-1zM715 346h1V355h-1zM721 372h1V383h-1zM729 416h1V461h-1zM731 407h1V414h-1zM745 409h1V428h-1zM748 397h1V407h-1zM750 352h1V395h-1zM753 270h1V350h-1zM764 282h1V283h-1zM769 323h1V339h-1zM772 303h1V321h-1zM777 271h1V315h-1zM780 264h1V269h-1zM788 252h1V281h-1zM794 257h1V262h-1zM805 297h1V314h-1zM807 286h1V295h-1zM810 247h1V284h-1zM821 263h1V290h-1zM840 336h1V341h-1zM842 329h1V334h-1zM845 313h1V327h-1zM859 360h1V373h-1zM861 351h1V358h-1zM864 336h1V349h-1zM867 331h1V334h-1zM870 222h1V329h-1zM878 226h1V243h-1zM883 169h1V247h-1zM886 142h1V167h-1zM894 169h1V181h-1zM897 161h1V167h-1zM907 329h1V355h-1zM910 305h1V327h-1zM924 403h1V435h-1zM926 383h1V401h-1zM932 391h1V440h-1zM935 383h1V389h-1zM940 409h1V418h-1zM943 395h1V407h-1zM945 377h1V393h-1zM953 427h1V433h-1zM972 531h1V540h-1zM975 513h1V529h-1zM989 560h1V564h-1zM994 563h1V569h-1zM997 551h1V561h-1zM1010 573h1V578h-1zM1021 645h1V654h-1zM1024 635h1V643h-1zM1029 633h1V643h-1zM1035 631h1V649h-1zM1043 641h1V655h-1zM1046 575h1V639h-1zM1054 616h1V636h-1zM1059 615h1V620h-1zM1062 600h1V613h-1zM1067 607h1V611h-1zM1073 607h1V611h-1zM1078 591h1V615h-1zM1083 605h1V613h-1zM1092 610h1V611h-1zM1094 595h1V608h-1zM1100 613h1V629h-1zM1105 599h1V611h-1zM1127 595h1V663h-1zM1130 483h1V593h-1zM1138 515h1V531h-1zM1146 572h1V577h-1zM1151 579h1V601h-1zM1157 557h1V580h-1zM1162 555h1V568h-1zM1167 552h1V555h-1zM1170 536h1V550h-1zM1176 557h1V558h-1zM1181 579h1V580h-1zM1184 551h1V577h-1zM1189 546h1V555h-1zM1200 577h1V585h-1zM1203 567h1V575h-1zM1205 560h1V565h-1zM1208 506h1V558h-1zM1211 483h1V504h-1zM1216 461h1V512h-1zM1222 451h1V477h-1zM1227 445h1V466h-1zM1230 425h1V443h-1zM1241 437h1V471h-1zM1243 299h1V435h-1zM1249 281h1V304h-1zM1268 371h1V386h-1zM1270 305h1V369h-1zM1284 339h1V342h-1zM1289 314h1V338h-1zM1308 328h1V329h-1zM1314 339h1V342h-1zM1322 323h1V359h-1zM1324 295h1V321h-1zM1330 345h1V350h-1zM1341 397h1V422h-1zM1343 383h1V395h-1zM1349 382h1V386h-1zM1352 379h1V380h-1zM1354 369h1V377h-1zM1365 366h1V385h-1zM1371 373h1V378h-1zM1379 337h1V371h-1zM1387 382h1V393h-1zM1392 388h1V395h-1zM1406 429h1V441h-1zM1417 433h1V438h-1zM1419 417h1V431h-1zM1425 405h1V422h-1z" fill="#25b226"/><path d="M38 125h1V155h-1zM46 140h1V165h-1zM63 93h1V183h-1zM68 170h1V191h-1zM71 193h1V241h-1zM82 101h1V125h-1zM84 127h1V149h-1zM95 122h1V133h-1zM98 135h1V243h-1zM111 200h1V228h-1zM117 193h1V203h-1zM119 205h1V239h-1zM122 241h1V247h-1zM128 251h1V277h-1zM133 258h1V308h-1zM141 287h1V298h-1zM144 300h1V304h-1zM152 283h1V321h-1zM160 313h1V314h-1zM168 317h1V320h-1zM171 322h1V324h-1zM176 313h1V329h-1zM179 331h1V358h-1zM184 329h1V357h-1zM190 307h1V329h-1zM193 331h1V354h-1zM195 356h1V367h-1zM201 351h1V360h-1zM203 362h1V374h-1zM214 312h1V330h-1zM220 329h1V334h-1zM225 295h1V321h-1zM230 325h1V364h-1zM233 366h1V369h-1zM239 361h1V385h-1zM241 387h1V389h-1zM244 391h1V395h-1zM247 397h1V435h-1zM249 437h1V474h-1zM252 476h1V547h-1zM255 549h1V550h-1zM263 549h1V557h-1zM271 535h1V545h-1zM276 537h1V547h-1zM287 487h1V488h-1zM301 442h1V499h-1zM314 465h1V510h-1zM320 477h1V480h-1zM328 451h1V459h-1zM331 461h1V490h-1zM333 492h1V514h-1zM336 516h1V541h-1zM339 543h1V551h-1zM355 494h1V500h-1zM358 502h1V519h-1zM360 521h1V539h-1zM369 501h1V547h-1zM377 521h1V535h-1zM382 487h1V495h-1zM390 487h1V493h-1zM393 495h1V519h-1zM398 510h1V511h-1zM409 469h1V499h-1zM431 331h1V342h-1zM434 344h1V354h-1zM447 293h1V352h-1zM450 354h1V427h-1zM458 391h1V411h-1zM463 315h1V383h-1zM466 385h1V413h-1zM474 387h1V490h-1zM480 485h1V511h-1zM482 513h1V530h-1zM488 466h1V469h-1zM490 471h1V477h-1zM507 461h1V473h-1zM526 425h1V458h-1zM528 460h1V536h-1zM531 538h1V560h-1zM536 519h1V540h-1zM542 533h1V535h-1zM547 521h1V539h-1zM558 501h1V511h-1zM561 513h1V534h-1zM564 536h1V550h-1zM572 511h1V559h-1zM577 541h1V607h-1zM580 609h1V645h-1zM585 629h1V648h-1zM593 639h1V642h-1zM596 644h1V662h-1zM604 644h1V676h-1zM612 585h1V604h-1zM629 376h1V408h-1zM634 392h1V420h-1zM637 422h1V433h-1zM639 435h1V451h-1zM645 435h1V480h-1zM650 423h1V429h-1zM658 333h1V369h-1zM661 371h1V415h-1zM672 349h1V397h-1zM683 340h1V341h-1zM685 343h1V397h-1zM688 399h1V419h-1zM704 375h1V380h-1zM710 365h1V371h-1zM718 346h1V383h-1zM723 372h1V401h-1zM726 403h1V461h-1zM734 407h1V419h-1zM742 422h1V428h-1zM759 272h1V281h-1zM767 282h1V339h-1zM775 303h1V315h-1zM783 264h1V279h-1zM791 252h1V262h-1zM796 257h1V260h-1zM799 262h1V279h-1zM802 281h1V314h-1zM813 247h1V263h-1zM815 265h1V283h-1zM818 285h1V290h-1zM824 263h1V291h-1zM832 295h1V298h-1zM834 300h1V307h-1zM837 309h1V341h-1zM848 313h1V338h-1zM851 340h1V349h-1zM853 351h1V368h-1zM856 370h1V373h-1zM872 222h1V241h-1zM880 226h1V247h-1zM888 142h1V183h-1zM899 161h1V264h-1zM902 266h1V314h-1zM905 316h1V355h-1zM913 305h1V314h-1zM916 316h1V357h-1zM918 359h1V404h-1zM921 406h1V435h-1zM929 383h1V440h-1zM937 383h1V418h-1zM948 377h1V394h-1zM951 396h1V433h-1zM956 427h1V435h-1zM964 439h1V527h-1zM970 530h1V540h-1zM978 513h1V534h-1zM981 536h1V559h-1zM986 560h1V564h-1zM991 560h1V569h-1zM1002 553h1V559h-1zM1005 561h1V567h-1zM1008 569h1V578h-1zM1013 573h1V588h-1zM1016 590h1V639h-1zM1018 641h1V654h-1zM1027 635h1V643h-1zM1032 633h1V649h-1zM1037 631h1V645h-1zM1040 647h1V655h-1zM1048 575h1V601h-1zM1051 603h1V636h-1zM1056 616h1V620h-1zM1065 600h1V611h-1zM1070 607h1V611h-1zM1075 607h1V615h-1zM1081 591h1V613h-1zM1086 605h1V610h-1zM1097 595h1V629h-1zM1108 599h1V601h-1zM1111 603h1V610h-1zM1113 612h1V637h-1zM1116 639h1V644h-1zM1119 646h1V663h-1zM1132 483h1V494h-1zM1135 496h1V531h-1zM1140 515h1V525h-1zM1143 527h1V577h-1zM1148 572h1V601h-1zM1154 579h1V580h-1zM1159 557h1V568h-1zM1173 536h1V558h-1zM1178 557h1V580h-1zM1186 551h1V555h-1zM1192 546h1V558h-1zM1195 560h1V571h-1zM1197 573h1V585h-1zM1213 483h1V488h-1zM1219 461h1V477h-1zM1224 451h1V466h-1zM1232 425h1V428h-1zM1235 430h1V434h-1zM1238 436h1V471h-1zM1246 299h1V304h-1zM1251 281h1V292h-1zM1254 294h1V316h-1zM1257 318h1V331h-1zM1259 333h1V368h-1zM1265 371h1V386h-1zM1273 305h1V331h-1zM1278 333h1V337h-1zM1281 339h1V342h-1zM1297 313h1V326h-1zM1300 328h1V329h-1zM1311 328h1V342h-1zM1319 339h1V359h-1zM1327 295h1V350h-1zM1333 345h1V391h-1zM1335 393h1V405h-1zM1338 407h1V422h-1zM1346 383h1V386h-1zM1360 371h1V386h-1zM1368 366h1V378h-1zM1381 337h1V343h-1zM1384 345h1V393h-1zM1389 382h1V395h-1zM1400 385h1V390h-1zM1403 392h1V441h-1zM1411 429h1V438h-1zM1422 417h1V422h-1zM1427 405h1V407h-1zM1430 409h1V415h-1z" fill="#fb0a80"/></g>
<!-- callout -->
<polygon points="1434.5,434 1461.8,564 1478.3,564" fill="#3b95f4"/>
<rect x="1335" y="562.5" width="270" height="68" rx="7" fill="#3b95f4"/>
<text x="1340.3" y="604.5" font-size="24" fill="#05070a" stroke="#05070a" stroke-width="1.1" stroke-linejoin="round" textLength="258.5" lengthAdjust="spacingAndGlyphs">Silná konfluenční oblast</text>
<!-- axes text -->
<g font-size="13.8" fill="#131722" clip-path="url(#cf)"><text x="1870.2" y="10.2" textLength="48.7" lengthAdjust="spacingAndGlyphs">0.88200</text><text x="1870.2" y="76.4" textLength="48.7" lengthAdjust="spacingAndGlyphs">0.88000</text><text x="1870.2" y="142.6" textLength="48.7" lengthAdjust="spacingAndGlyphs">0.87800</text><text x="1870.2" y="208.7" textLength="48.7" lengthAdjust="spacingAndGlyphs">0.87600</text><text x="1870.2" y="274.9" textLength="48.7" lengthAdjust="spacingAndGlyphs">0.87400</text><text x="1870.2" y="341.1" textLength="48.7" lengthAdjust="spacingAndGlyphs">0.87200</text><text x="1870.2" y="407.3" textLength="48.7" lengthAdjust="spacingAndGlyphs">0.87000</text><text x="1870.2" y="473.4" textLength="48.7" lengthAdjust="spacingAndGlyphs">0.86800</text><text x="1870.2" y="539.6" textLength="48.7" lengthAdjust="spacingAndGlyphs">0.86600</text><text x="1870.2" y="605.8" textLength="48.7" lengthAdjust="spacingAndGlyphs">0.86400</text><text x="1870.2" y="671.9" textLength="48.7" lengthAdjust="spacingAndGlyphs">0.86200</text><text x="1870.2" y="738.1" textLength="48.7" lengthAdjust="spacingAndGlyphs">0.86000</text><text x="1870.2" y="804.3" textLength="48.7" lengthAdjust="spacingAndGlyphs">0.85800</text></g>
<g font-size="13.5" fill="#131722" text-anchor="middle" clip-path="url(#cf)"><text x="14.5" y="876">11</text><text x="79.5" y="876">17</text><text x="144.5" y="876">23</text><text x="231.5" y="876" font-weight="bold">2026</text><text x="296.5" y="876">8</text><text x="361.5" y="876">14</text><text x="426.5" y="876">20</text><text x="490.5" y="876">26</text><text x="566.5" y="876">Feb</text><text x="636.5" y="876">6</text><text x="701.5" y="876">12</text><text x="766.5" y="876">18</text><text x="890.5" y="876">Mar</text><text x="961.5" y="876">6</text><text x="1026.5" y="876">12</text><text x="1091.5" y="876">18</text><text x="1156.5" y="876">24</text><text x="1253.5" y="876">Apr</text><text x="1318.5" y="876">7</text><text x="1383.5" y="876">13</text><text x="1448.5" y="876">17</text><text x="1513.5" y="876">23</text><text x="1610.5" y="876">May</text><text x="1676.5" y="876">7</text><text x="1741.5" y="876">13</text><text x="1806.5" y="876">19</text></g>
<!-- price tag -->
<path d="M1803.5 405H1860V426H1803.5a2.5 2.5 0 0 1 -2.5 -2.5V407.5a2.5 2.5 0 0 1 2.5 -2.5z" fill="#fb0676"/>
<path d="M1861 405H1922.5a2.5 2.5 0 0 1 2.5 2.5V423.5a2.5 2.5 0 0 1 -2.5 2.5H1861z" fill="#fb0676"/>
<g font-size="13.2" fill="#fff" stroke="#fff" stroke-width="0.35">
<text x="1805" y="420.3" textLength="49.5" lengthAdjust="spacingAndGlyphs">EURGBP</text>
<text x="1870" y="420.3" textLength="49" lengthAdjust="spacingAndGlyphs">0.86964</text>
</g>
<!-- title -->
<text x="42.3" y="44.7" font-size="29" fill="#0a0a0a" textLength="122.3" lengthAdjust="spacingAndGlyphs">EUR/GBP:</text><text x="175" y="44.7" font-size="29" fill="#0a0a0a" textLength="81.6" lengthAdjust="spacingAndGlyphs">4-hour</text>
<!-- TradingView logo -->
<g fill="#14151a">
<path d="M12.2 910.3H23.9V924.7H18V916.1H12.2z"/>
<circle cx="29.2" cy="912.9" r="2.9"/>
<path d="M33.7 910.3H41.8L36.2 924.7H29.2z"/>
<text x="49" y="924.7" font-size="20" font-weight="bold" textLength="120.5" lengthAdjust="spacingAndGlyphs">TradingView</text>
</g>
</svg>
</body></html>
